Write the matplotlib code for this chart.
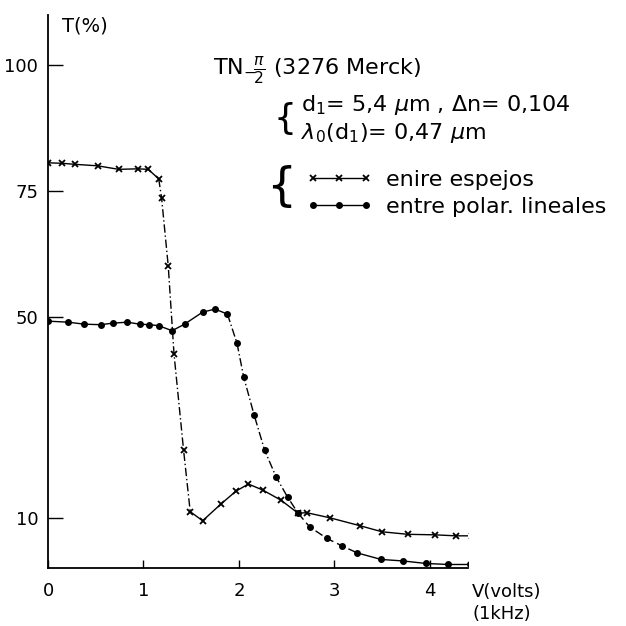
import numpy as np
import matplotlib
matplotlib.use('Agg')
import matplotlib.pyplot as plt
from matplotlib.lines import Line2D

# Datos: T(%) frente a V(volts) a 1 kHz
v_espejos = [0.00, 0.15, 0.28, 0.52, 0.74, 0.94, 1.05, 1.16, 1.19, 1.26, 1.32, 1.42,
             1.49, 1.62, 1.81, 1.97, 2.10, 2.25, 2.44, 2.62, 2.71, 2.95, 3.27, 3.50,
             3.77, 4.05, 4.27, 4.44]
t_espejos = [80.6, 80.5, 80.3, 80.0, 79.3, 79.4, 79.3, 77.4, 73.6, 60.0, 42.6, 23.5,
             11.2, 9.4, 12.7, 15.3, 16.7, 15.5, 13.5, 10.9, 11.0, 10.0, 8.4, 7.2,
             6.7, 6.6, 6.4, 6.4]

v_polar = [0.00, 0.21, 0.38, 0.55, 0.68, 0.83, 0.96, 1.06, 1.16, 1.30, 1.43, 1.62,
           1.75, 1.88, 1.98, 2.05, 2.16, 2.27, 2.39, 2.51, 2.62, 2.74, 2.92, 3.08,
           3.24, 3.49, 3.72, 3.96, 4.19, 4.42]
t_polar = [49.1, 48.9, 48.5, 48.4, 48.7, 48.9, 48.5, 48.4, 48.2, 47.2, 48.5, 50.9,
           51.5, 50.5, 44.7, 38.0, 30.4, 23.4, 18.1, 14.1, 10.9, 8.2, 5.9, 4.4,
           3.0, 1.7, 1.4, 0.9, 0.7, 0.7]

x_ticks = [0, 1, 2, 3, 4]
y_ticks = [10, 50, 75, 100]

W = H = 626


def px(x, y):
    # pixeles de la imagen -> fraccion de figura
    return x / W, 1 - y / H


plt.rcParams['font.family'] = ['DejaVu Sans']
plt.rcParams['mathtext.fontset'] = 'dejavusans'
fig = plt.figure(figsize=(6.26, 6.26), dpi=100)
ax = fig.add_axes([48 / W, 1 - 568 / H, 420 / W, 553 / H])
ax.set_xlim(0, 4.40)
ax.set_ylim(0, 110)

for s in ['top', 'right']:
    ax.spines[s].set_visible(False)
for s in ['left', 'bottom']:
    ax.spines[s].set_linewidth(1.3)

ax.set_xticks(x_ticks)
ax.set_yticks(y_ticks)
ax.tick_params(direction='in', length=11, width=1.0, labelsize=13, pad=7)
ax.tick_params(axis='x', length=6, pad=10)

# tramos: (inicio, fin, estilo)
tramos_esp = [(0, 7, '-'), (7, 12, (0, (6, 2, 1, 2))), (12, 28, '-')]
tramos_pol = [(0, 13, '-'), (13, 20, (0, (6, 2, 1, 2))), (20, 24, (0, (6, 3))), (24, 30, '-')]

for a, b, ls in tramos_esp:
    ax.plot(v_espejos[a:b + 1], t_espejos[a:b + 1], color='black', lw=1.0, ls=ls)
for a, b, ls in tramos_pol:
    ax.plot(v_polar[a:b + 1], t_polar[a:b + 1], color='black', lw=1.0, ls=ls)

ax.plot(v_espejos, t_espejos, ls='none', marker='x', ms=5, mew=1.3, color='black')
ax.plot(v_polar, t_polar, ls='none', marker='o', ms=4, color='black')

# textos
fig.text(*px(62, 26), 'T(%)', fontsize=14, va='center')
fig.text(*px(213, 70), r'TN$_{-}\!\frac{\pi}{2}$ (3276 Merck)', fontsize=16, va='center')
fig.text(*px(296, 119), '{', fontsize=26, va='center', ha='right')
fig.text(*px(301, 105), r'd$_1$= 5,4 $\mu$m , $\Delta$n= 0,104', fontsize=16, va='center')
fig.text(*px(301, 133), r'$\lambda_0$(d$_1$)= 0,47 $\mu$m', fontsize=16, va='center')
fig.text(*px(296, 188), '{', fontsize=34, va='center', ha='right')
fig.text(*px(472, 592), 'V(volts)', fontsize=13, va='center')
fig.text(*px(472, 614), '(1kHz)', fontsize=13, va='center')

handles = [Line2D([], [], color='black', lw=1.0, marker='x', ms=5, mew=1.3),
           Line2D([], [], color='black', lw=1.0, marker='o', ms=4)]
leg = fig.legend(handles, ['enire espejos', 'entre polar. lineales'],
                 loc='upper left', bbox_to_anchor=px(286, 150), frameon=False,
                 fontsize=16, handlelength=3.0, handletextpad=0.6, labelspacing=0.3,
                 numpoints=3)

fig.savefig('out.png', dpi=100)
